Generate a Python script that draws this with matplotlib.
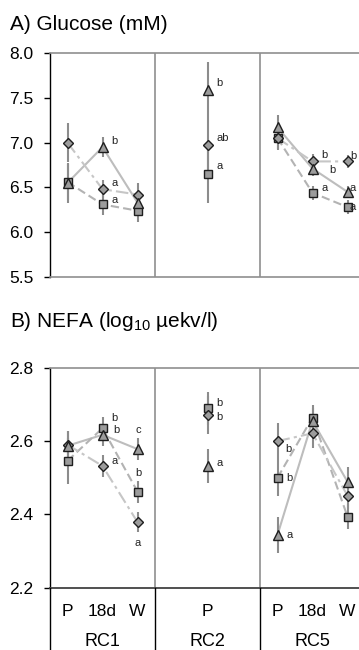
import matplotlib
matplotlib.use("Agg")
import matplotlib.pyplot as plt
import matplotlib.transforms as mtransforms

plt.rcParams['font.family'] = ['Liberation Sans', 'DejaVu Sans']
plt.rcParams['mathtext.fontset'] = 'custom'
plt.rcParams['mathtext.rm'] = 'Liberation Sans'
plt.rcParams['mathtext.default'] = 'regular'

# ---------------- data ----------------
groups = ['RC1', 'RC2', 'RC5']
group_times = [['P', '18d', 'W'], ['P'], ['P', '18d', 'W']]
# order of points: RC1 P, 18d, W | RC2 P | RC5 P, 18d, W

glu_tri = [6.55, 6.95, 6.33, 7.59, 7.17, 6.71, 6.45]
glu_tri_se = [0.22, 0.11, 0.10, 0.31, 0.14, 0.08, 0.07]
glu_tri_let = ['', 'b', '', 'b', '', 'b', 'a']

glu_sq = [6.56, 6.31, 6.24, 6.65, 7.05, 6.44, 6.28]
glu_sq_se = [0.20, 0.12, 0.13, 0.32, 0.13, 0.08, 0.08]
glu_sq_let = ['', 'a', '', 'a', '', 'a', 'a']

glu_dia = [7.00, 6.48, 6.42, 6.97, 7.05, 6.79, 6.79]
glu_dia_se = [0.22, 0.10, 0.13, 0.30, 0.12, 0.08, 0.07]
glu_dia_let = ['', 'a', '', 'ab', '', 'b', 'b']

nefa_tri = [2.587, 2.617, 2.578, 2.532, 2.344, 2.655, 2.489]
nefa_tri_se = [0.040, 0.030, 0.031, 0.047, 0.050, 0.035, 0.039]
nefa_tri_let = ['', 'b', 'c', 'a', 'a', '', '']

nefa_sq = [2.546, 2.635, 2.462, 2.689, 2.500, 2.664, 2.394]
nefa_sq_se = [0.063, 0.030, 0.030, 0.046, 0.050, 0.034, 0.035]
nefa_sq_let = ['', 'b', 'b', 'b', 'b', '', '']

nefa_dia = [2.590, 2.532, 2.379, 2.671, 2.600, 2.621, 2.451]
nefa_dia_se = [0.038, 0.030, 0.028, 0.052, 0.050, 0.039, 0.035]
nefa_dia_let = ['', 'a', 'a', 'b', 'b', '', '']

# ---------------- layout / style ----------------
W, H = 359, 650
fig = plt.figure(figsize=(W / 100, H / 100), dpi=100)

xpos = [0.5, 1.5, 2.5, 4.5, 6.5, 7.5, 8.5]
line_segments = [(0, 3), (4, 7)]

styles = {
    'tri': dict(marker='^', ms=7.2, ls='-', lc='#bdbdbd', z=3.3),
    'sq': dict(marker='s', ms=5.5, ls=(0, (4, 2)), lc='#b3b3b3', z=3.1),
    'dia': dict(marker='D', ms=4.8, ls=(0, (6, 2, 1.5, 2)), lc='#c6c6c6', z=3.2),
}

# letter offsets in pixels (dx, dy, ha), keyed by (panel, series, index)
default_off = (9, 5, 'left')
offsets = {
    ('A', 'tri', 1): (9, 6.5, 'left'), ('A', 'dia', 1): (9, 6.5, 'left'), ('A', 'sq', 1): (9, 4, 'left'),
    ('A', 'tri', 3): (9, 6.5, 'left'), ('A', 'dia', 3): (9, 7, 'left'), ('A', 'sq', 3): (9, 7.5, 'left'),
    ('A', 'dia', 5): (9, 6, 'left'), ('A', 'tri', 5): (17, -1.5, 'left'), ('A', 'sq', 5): (9, 4.5, 'left'),
    ('A', 'dia', 6): (2.5, 5, 'left'), ('A', 'tri', 6): (2.5, 4, 'left'), ('A', 'sq', 6): (2.5, 0, 'left'),
    ('B', 'sq', 1): (9, 10, 'left'), ('B', 'tri', 1): (11, 5, 'left'), ('B', 'dia', 1): (9, 4.5, 'left'),
    ('B', 'tri', 2): (0.5, 19, 'center'), ('B', 'sq', 2): (0.5, 19, 'center'), ('B', 'dia', 2): (0.5, -21, 'center'),
    ('B', 'sq', 3): (9, 5.5, 'left'), ('B', 'dia', 3): (9, -1.5, 'left'), ('B', 'tri', 3): (9, 3, 'left'),
    ('B', 'dia', 4): (8, -8, 'left'), ('B', 'sq', 4): (9, 0, 'left'), ('B', 'tri', 4): (9, 0, 'left'),
}

gray_line = '#8f8f8f'
err_col = '#8c8c8c'
mk_face = '#9c9c9c'
mk_edge = '#1e1e1e'


def draw_panel(ax, panel, series, ylim, yticks):
    ax.set_xlim(0, 9)
    ax.set_ylim(*ylim)
    # lines
    for name, vals, se, lets in series:
        st = styles[name]
        for a, b in line_segments:
            ax.plot(xpos[a:b], vals[a:b], ls=st['ls'], color=st['lc'], lw=1.5,
                    zorder=1, solid_capstyle='butt')
    # error bars
    for name, vals, se, lets in series:
        ax.errorbar(xpos, vals, yerr=se, fmt='none', ecolor=err_col,
                    elinewidth=1.5, capsize=0, zorder=2)
    # markers and letters
    for name, vals, se, lets in series:
        st = styles[name]
        ax.plot(xpos, vals, ls='none', marker=st['marker'], ms=st['ms'],
                mfc=mk_face, mec=mk_edge, mew=1.0, zorder=st['z'])
        for i, (x, v, l) in enumerate(zip(xpos, vals, lets)):
            if not l:
                continue
            dx, dy, ha = offsets.get((panel, name, i), default_off)
            ax.annotate(l, (x, v), xytext=(dx * 0.72, dy * 0.72),
                        textcoords='offset points', ha=ha, va='center',
                        fontsize=8, color='#222222', zorder=4)
    for xv in (3, 6):
        ax.axvline(xv, color=gray_line, lw=1.2, zorder=0)
    ax.spines['right'].set_visible(False)
    ax.spines['top'].set_color(gray_line)
    ax.spines['top'].set_linewidth(1.2)
    ax.spines['left'].set_color('#000000')
    ax.spines['left'].set_linewidth(1.0)
    ax.set_yticks(yticks)
    ax.set_yticklabels(['%.1f' % t for t in yticks])
    ax.tick_params(axis='y', length=4, width=1, pad=8, labelsize=12.5,
                   direction='out', colors='#000000')
    ax.set_xticks([])


px = 35.0
ax_w = 9 * px / W
ax1 = fig.add_axes([50 / W, 1 - 277 / H, ax_w, 224 / H])
draw_panel(ax1, 'A',
           [('tri', glu_tri, glu_tri_se, glu_tri_let),
            ('sq', glu_sq, glu_sq_se, glu_sq_let),
            ('dia', glu_dia, glu_dia_se, glu_dia_let)],
           (5.5, 8.0), [5.5, 6.0, 6.5, 7.0, 7.5, 8.0])
ax1.spines['bottom'].set_color(gray_line)
ax1.spines['bottom'].set_linewidth(1.2)

ax2 = fig.add_axes([50 / W, 1 - 587.7 / H, ax_w, 220 / H])
draw_panel(ax2, 'B',
           [('tri', nefa_tri, nefa_tri_se, nefa_tri_let),
            ('sq', nefa_sq, nefa_sq_se, nefa_sq_let),
            ('dia', nefa_dia, nefa_dia_se, nefa_dia_let)],
           (2.2, 2.8), [2.2, 2.4, 2.6, 2.8])
ax2.spines['bottom'].set_color('#505050')
ax2.spines['bottom'].set_linewidth(1.4)

# category labels below panel B
trans = mtransforms.blended_transform_factory(ax2.transData, ax2.transAxes)
y_time = -(616.5 - 587.7) / 220
y_group = -(646.5 - 587.7) / 220
times_flat = [t for ts in group_times for t in ts]
for x, t in zip(xpos, times_flat):
    ax2.text(x, y_time, t, transform=trans, ha='center', va='baseline',
             fontsize=12.5, clip_on=False)
for gname, cx in zip(groups, [1.5, 4.5, 7.5]):
    ax2.text(cx, y_group, gname, transform=trans, ha='center', va='baseline',
             fontsize=13, clip_on=False)
for xv in (0, 3, 6, 9):
    ax2.plot([xv, xv], [0, -0.35], transform=trans, color='#000000', lw=1.0,
             clip_on=False, zorder=5)

# panel titles
fig.text(10 / W, 1 - 29.5 / H, 'A) Glucose (mM)', fontsize=15, va='baseline', ha='left')
fig.text(9.5 / W, 1 - 326.7 / H, 'B) NEFA (log$_{10}$ µekv/l)', fontsize=15,
         va='baseline', ha='left')

fig.savefig('out.png', dpi=100)
